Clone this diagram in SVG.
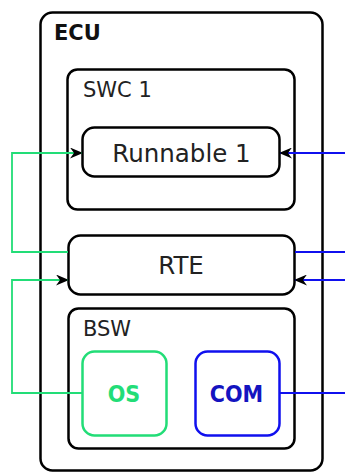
<svg xmlns="http://www.w3.org/2000/svg" width="345" height="474" viewBox="0 0 345 474">
<style>
.box{fill:#fff;stroke:#000;stroke-width:2.5}
.lbl{font-family:"DejaVu Sans",sans-serif;font-size:21px;fill:#222}
.ctr{font-family:"DejaVu Sans",sans-serif;font-size:24.5px;fill:#222;text-anchor:middle}
.bt{font-family:"DejaVu Sans Condensed","DejaVu Sans",sans-serif;font-stretch:condensed;font-size:23px;font-weight:bold;text-anchor:middle}
.g{fill:none;stroke:#22dd77;stroke-width:1.8}
.b{fill:none;stroke:#1010ee;stroke-width:1.8}
</style>
<defs>
<marker id="ah" viewBox="0 0 13 11" refX="12" refY="5.5" markerWidth="13" markerHeight="11" markerUnits="userSpaceOnUse" orient="auto">
<path d="M0,0 L13,5.5 L0,11 L4,5.5 Z" fill="#000"/>
</marker>
</defs>
<g id="ECU">
<rect class="box" x="40.5" y="12.5" width="282" height="458" rx="12" stroke-width="3"/>
<text x="54" y="40" font-family="DejaVu Sans,sans-serif" font-size="21" font-weight="bold" fill="#111">ECU</text>
</g>
<g id="SWC1">
<rect class="box" x="67.5" y="69.5" width="227" height="140" rx="10"/>
<text class="lbl" x="83" y="97">SWC 1</text>
</g>
<g id="Runnable1">
<rect class="box" x="82.5" y="127.5" width="197" height="49" rx="12"/>
<text class="ctr" x="181.5" y="162">Runnable 1</text>
</g>
<g id="RTE">
<rect class="box" x="68.5" y="235.5" width="226" height="59" rx="12"/>
<text class="ctr" x="181" y="273.5">RTE</text>
</g>
<g id="BSW">
<rect class="box" x="68.5" y="308.5" width="226" height="140" rx="10"/>
<text class="lbl" x="83" y="336">BSW</text>
</g>
<g id="OS">
<rect x="82.5" y="351.5" width="84" height="84" rx="12" fill="#fff" stroke="#22dd77" stroke-width="2.5"/>
<text class="bt" x="124" y="402" fill="#22dd77">OS</text>
</g>
<g id="COM">
<rect x="195.5" y="351.5" width="84" height="84" rx="12" fill="#fff" stroke="#1010ee" stroke-width="2.5"/>
<text class="bt" x="236.5" y="402" fill="#1414c0">COM</text>
</g>
<g id="connectors">
<path class="g" d="M68,252 H12 V153 H82" marker-end="url(#ah)"/>
<path class="b" d="M345,153 H280" marker-end="url(#ah)"/>
<path class="b" d="M295,252 H345"/>
<path class="b" d="M345,280 H295" marker-end="url(#ah)"/>
<path class="g" d="M82,393 H12 V280 H68" marker-end="url(#ah)"/>
<path class="b" d="M280,393 H345"/>
</g>
</svg>
